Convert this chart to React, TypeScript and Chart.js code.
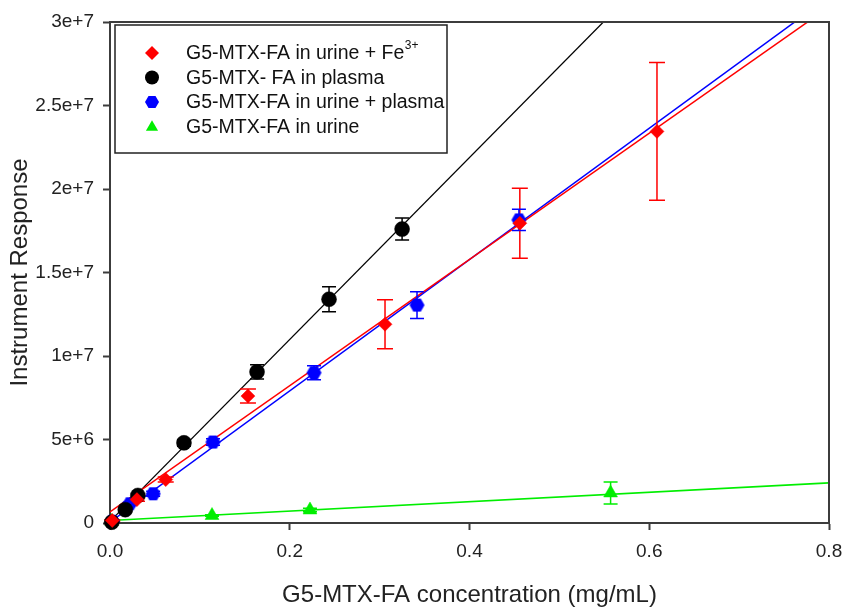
import { useEffect, useRef } from 'react';
import { Chart, registerables } from 'chart.js';

Chart.register(...registerables);

// ---------- data ----------
const xAxisTitle = 'G5-MTX-FA concentration (mg/mL)';
const yAxisTitle = 'Instrument Response';

const xTickValues = [0, 0.2, 0.4, 0.6, 0.8];
const xTickLabels = ['0.0', '0.2', '0.4', '0.6', '0.8'];
const yTickValues = [0, 5e6, 1e7, 1.5e7, 2e7, 2.5e7, 3e7];
const yTickLabels = ['0', '5e+6', '1e+7', '1.5e+7', '2e+7', '2.5e+7', '3e+7'];

const legendLabels = [
  'G5-MTX-FA in urine + Fe',
  'G5-MTX- FA in plasma',
  'G5-MTX-FA in urine + plasma',
  'G5-MTX-FA in urine',
];
const legendSuperscripts = ['3+', '', '', ''];

// urine + Fe3+ (red diamonds)
const redX = [0.0025, 0.03, 0.062, 0.1535, 0.306, 0.456, 0.6086];
const redY = [0.15e6, 1.4e6, 2.6e6, 7.6e6, 11.9e6, 17.95e6, 23.45e6];
const redErr = [0.05e6, 0.1e6, 0.15e6, 0.42e6, 1.47e6, 2.1e6, 4.13e6];

// plasma (black circles)
const blackX = [0.002, 0.017, 0.031, 0.0823, 0.1636, 0.2437, 0.325];
const blackY = [0.05e6, 0.8e6, 1.65e6, 4.8e6, 9.05e6, 13.4e6, 17.6e6];
const blackErr = [0.05e6, 0.1e6, 0.1e6, 0.2e6, 0.42e6, 0.75e6, 0.66e6];

// urine + plasma (blue hexagons)
const blueX = [0.0025, 0.022, 0.048, 0.1146, 0.227, 0.3416, 0.455];
const blueY = [0.1e6, 1.15e6, 1.75e6, 4.85e6, 9.0e6, 13.05e6, 18.15e6];
const blueErr = [0.05e6, 0.1e6, 0.15e6, 0.2e6, 0.42e6, 0.8e6, 0.63e6];

// urine (green triangles)
const greenX = [0.002, 0.1135, 0.2225, 0.557];
const greenY = [0.1e6, 0.45e6, 0.78e6, 1.8e6];
const greenErr = [0.02e6, 0.05e6, 0.1e6, 0.66e6];

// fitted lines (endpoints)
const redFitX = [0, 0.8];
const redFitY = [0.66e6, 30.9e6];
const blackFitX = [0, 0.56];
const blackFitY = [0.1e6, 30.6e6];
const blueFitX = [0, 0.8];
const blueFitY = [0.05e6, 31.5e6];
const greenFitX = [0, 0.8];
const greenFitY = [0.15e6, 2.4e6];

const RED = '#ff0000';
const BLACK = '#000000';
const BLUE = '#0000ff';
const GREEN = '#00ee00';
const AXIS = '#3c3c3c';
const FONT = "'Liberation Sans', Arial, sans-serif";

function pts(xs: number[], ys: number[]) {
  return xs.map((x, i) => ({ x, y: ys[i] }));
}

function makeHexagon(r: number, color: string) {
  const c = document.createElement('canvas');
  const s = Math.ceil(r * 2) + 2;
  c.width = s;
  c.height = s;
  const g = c.getContext('2d')!;
  g.beginPath();
  for (let k = 0; k < 6; k++) {
    const a = (Math.PI / 3) * k;
    const px = s / 2 + r * Math.cos(a);
    const py = s / 2 + r * Math.sin(a);
    if (k === 0) g.moveTo(px, py);
    else g.lineTo(px, py);
  }
  g.closePath();
  g.fillStyle = color;
  g.fill();
  return c;
}

function drawMarker(ctx: CanvasRenderingContext2D, kind: string, x: number, y: number, r: number, color: string) {
  ctx.save();
  ctx.fillStyle = color;
  ctx.beginPath();
  if (kind === 'diamond') {
    ctx.moveTo(x, y - r);
    ctx.lineTo(x + r, y);
    ctx.lineTo(x, y + r);
    ctx.lineTo(x - r, y);
  } else if (kind === 'circle') {
    ctx.arc(x, y, r, 0, Math.PI * 2);
  } else if (kind === 'hexagon') {
    for (let k = 0; k < 6; k++) {
      const a = (Math.PI / 3) * k;
      const px = x + r * Math.cos(a);
      const py = y + r * Math.sin(a);
      if (k === 0) ctx.moveTo(px, py);
      else ctx.lineTo(px, py);
    }
  } else {
    const h = r * 1.5;
    ctx.moveTo(x, y - h * 0.6);
    ctx.lineTo(x + r * 0.87, y + h * 0.4);
    ctx.lineTo(x - r * 0.87, y + h * 0.4);
  }
  ctx.closePath();
  ctx.fill();
  ctx.restore();
}

export default function App() {
  const ref = useRef<HTMLCanvasElement | null>(null);

  useEffect(() => {
    if (!ref.current) return;
    const hex = makeHexagon(7.5, BLUE);

    const series = [
      { xs: redX, ys: redY, err: redErr, color: RED, cap: 8 },
      { xs: blackX, ys: blackY, err: blackErr, color: BLACK, cap: 7 },
      { xs: blueX, ys: blueY, err: blueErr, color: BLUE, cap: 7 },
      { xs: greenX, ys: greenY, err: greenErr, color: GREEN, cap: 7 },
    ];
    const legendKinds = ['diamond', 'circle', 'hexagon', 'triangle'];
    const legendColors = [RED, BLACK, BLUE, GREEN];

    const errorBars = {
      id: 'errorBars',
      beforeDatasetDraw(chart: any, args: any) {
        if (args.index !== 3) return;
        const { ctx, scales } = chart;
        const xs = scales.x;
        const ys = scales.y;
        ctx.save();
        ctx.lineWidth = 1.5;
        series.forEach((s) => {
          ctx.strokeStyle = s.color;
          s.xs.forEach((xv, i) => {
            const e = s.err[i];
            const px = xs.getPixelForValue(xv);
            const pTop = ys.getPixelForValue(s.ys[i] + e);
            const pBot = ys.getPixelForValue(s.ys[i] - e);
            ctx.beginPath();
            ctx.moveTo(px, pTop);
            ctx.lineTo(px, pBot);
            ctx.moveTo(px - s.cap, pTop);
            ctx.lineTo(px + s.cap, pTop);
            ctx.moveTo(px - s.cap, pBot);
            ctx.lineTo(px + s.cap, pBot);
            ctx.stroke();
          });
        });
        ctx.restore();
      },
    };

    const frameAndLegend = {
      id: 'frameAndLegend',
      afterDraw(chart: any) {
        const { ctx, chartArea } = chart;
        const { left, top, right, bottom } = chartArea;
        ctx.save();
        // top & right frame
        ctx.strokeStyle = AXIS;
        ctx.lineWidth = 2;
        ctx.beginPath();
        ctx.moveTo(left, top);
        ctx.lineTo(right, top);
        ctx.lineTo(right, bottom);
        ctx.stroke();
        // legend box
        const bx = left + 5;
        const by = top + 3;
        ctx.strokeStyle = '#222';
        ctx.lineWidth = 1.5;
        ctx.fillStyle = '#ffffff';
        ctx.fillRect(bx, by, 332, 128);
        ctx.strokeRect(bx, by, 332, 128);
        ctx.textBaseline = 'middle';
        ctx.textAlign = 'left';
        legendLabels.forEach((lab, i) => {
          const ry = top + 31 + i * 24.5;
          drawMarker(ctx, legendKinds[i], left + 42, ry, 7, legendColors[i]);
          ctx.fillStyle = '#111';
          ctx.font = `19.5px ${FONT}`;
          ctx.fillText(lab, left + 76, ry + 1);
          if (legendSuperscripts[i]) {
            const w = ctx.measureText(lab).width;
            ctx.font = `12px ${FONT}`;
            ctx.fillText(legendSuperscripts[i], left + 76 + w + 0.5, ry - 7);
          }
        });
        ctx.restore();
      },
    };

    const pointDs = (label: string, xs: number[], ys: number[], color: string, style: any, r: number) => ({
      label,
      data: pts(xs, ys),
      showLine: false,
      pointStyle: style,
      pointRadius: r,
      pointHoverRadius: r,
      backgroundColor: color,
      borderColor: color,
      borderWidth: 0.5,
      clip: false as any,
    });
    const fitDs = (xs: number[], ys: number[], color: string, w: number) => ({
      label: '',
      data: pts(xs, ys),
      showLine: true,
      pointRadius: 0,
      borderColor: color,
      borderWidth: w,
      fill: false,
      clip: 0,
    });

    const chart = new Chart(ref.current, {
      type: 'scatter',
      data: {
        datasets: [
          pointDs(legendLabels[0], redX, redY, RED, 'rectRot', 7),
          pointDs(legendLabels[1], blackX, blackY, BLACK, 'circle', 7.5),
          pointDs(legendLabels[2], blueX, blueY, BLUE, hex, 7),
          pointDs(legendLabels[3], greenX, greenY, GREEN, 'triangle', 8),
          fitDs(redFitX, redFitY, RED, 1.5),
          fitDs(blackFitX, blackFitY, BLACK, 1.3),
          fitDs(blueFitX, blueFitY, BLUE, 1.5),
          fitDs(greenFitX, greenFitY, GREEN, 1.7),
        ] as any,
      },
      options: {
        animation: false,
        responsive: false,
        maintainAspectRatio: false,
        layout: { padding: { top: 22, right: 15, left: 0, bottom: 0 } },
        plugins: { legend: { display: false }, tooltip: { enabled: false } },
        scales: {
          x: {
            type: 'linear',
            min: 0,
            max: 0.8,
            afterBuildTicks: (s: any) => {
              s.ticks = xTickValues.map((v) => ({ value: v }));
            },
            ticks: {
              callback: (v: any) => {
                const i = xTickValues.findIndex((t) => Math.abs(t - v) < 1e-9);
                return i >= 0 ? xTickLabels[i] : '';
              },
              font: { family: FONT, size: 19 },
              color: '#222',
              padding: 10,
              maxRotation: 0,
            },
            grid: { drawOnChartArea: false, drawTicks: true, tickLength: 7, tickColor: AXIS, tickWidth: 2 },
            border: { color: AXIS, width: 2 },
            title: {
              display: true,
              text: xAxisTitle,
              font: { family: FONT, size: 24, lineHeight: 1 },
              color: '#222',
              padding: { top: 0, bottom: 0 },
            },
            afterFit: (s: any) => {
              s.height = 84;
              s.paddingLeft = 0;
              s.paddingRight = 0;
            },
          },
          y: {
            type: 'linear',
            min: 0,
            max: 3e7,
            afterBuildTicks: (s: any) => {
              s.ticks = yTickValues.map((v) => ({ value: v }));
            },
            ticks: {
              callback: (v: any) => {
                const i = yTickValues.findIndex((t) => Math.abs(t - v) < 1);
                return i >= 0 ? yTickLabels[i] : '';
              },
              font: { family: FONT, size: 19 },
              color: '#222',
              padding: 9,
            },
            grid: { drawOnChartArea: false, drawTicks: true, tickLength: 7, tickColor: AXIS, tickWidth: 2 },
            border: { color: AXIS, width: 2 },
            title: {
              display: true,
              text: yAxisTitle,
              font: { family: FONT, size: 24, lineHeight: 1 },
              color: '#222',
              padding: { top: 8, bottom: 0 },
            },
            afterFit: (s: any) => {
              s.width = 110;
              s.paddingTop = 0;
              s.paddingBottom = 0;
            },
          },
        },
      },
      plugins: [errorBars, frameAndLegend],
    });
    return () => chart.destroy();
  }, []);

  return (
    <div style={{ position: 'fixed', left: 0, top: 0, width: 844, height: 607, background: '#fff' }}>
      <canvas ref={ref} width={844} height={607} style={{ width: 844, height: 607, display: 'block' }} />
    </div>
  );
}
